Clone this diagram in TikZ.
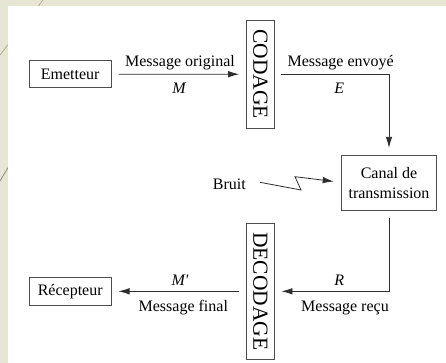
\documentclass[tikz,border=0pt]{standalone}
\usepackage{fontspec}
\setmainfont{Liberation Serif}
\usetikzlibrary{arrows.meta}
\definecolor{bgbeige}{HTML}{E7E5D3}
\definecolor{decoline}{HTML}{A9A88C}
\definecolor{inkgray}{HTML}{2E2E2E}
\tikzset{
  box/.style={draw=inkgray!85, line width=0.9pt, rectangle, inner sep=0pt, font=\fontsize{16}{20}\selectfont, text=black},
  vbox/.style={box, rotate=-90, minimum height=27.3pt, font=\fontsize{21.5}{24}\selectfont},
  lab/.style={anchor=base, inner sep=0pt, font=\fontsize{16}{20}\selectfont, text=black},
  conn/.style={draw=inkgray, line width=0.8pt, -{Latex[length=11pt,width=6.5pt]}, shorten >=7pt, shorten <=7pt},
}
\begin{document}
\begin{tikzpicture}[x=1pt,y=-1pt]
\useasboundingbox (0,0) rectangle (446,363);
\fill[bgbeige] (0,0) rectangle (446,363);
\draw[decoline, line width=0.7pt] (43,0) -- (0,55);
\draw[decoline!80!black, line width=0.7pt] (12,161) -- (0,181);
\fill[white] (8,6) rectangle (446,363);

\node[box, minimum width=81.7pt, minimum height=27.3pt] (emet) at (70.2,74.3) {Emetteur};
\node[vbox, minimum width=108.3pt] (cod) at (260.3,74.2) {CODAGE};
\node[box, minimum width=95.7pt, minimum height=54.7pt, align=center] (canal) at (389,182.7) {Canal de\\transmission};
\node[vbox, minimum width=136pt] (decod) at (260.3,291.3) {DECODAGE};
\node[box, minimum width=81.7pt, minimum height=27.3pt] (recep) at (70.2,291.3) {Récepteur};

\draw[conn] (emet) -- (cod);
\draw[conn] (cod) -| (canal);
\draw[conn] (canal) |- (decod);
\draw[conn] (decod) -- (recep);

\node[lab] (lmo) at (180,66.7) {Message original};
\node[lab] (lM) at (179,94) {\itshape M};
\node[lab] (lme) at (340.7,66.7) {Message envoyé};
\node[lab] (lE) at (339.3,94) {\itshape E};
\node[lab] (lR) at (339.3,285) {\itshape R};
\node[lab] (lmr) at (345,311.7) {Message reçu};
\node[lab] (lMp) at (180,285) {\itshape M\textquotesingle};
\node[lab] (lmf) at (183.3,311.7) {Message final};
\node[lab] (bruit) at (229.3,189.3) {Bruit};

\coordinate (z0) at (260,182.3);
\coordinate (z1) at (301,190);
\coordinate (z2) at (295,176.7);
\draw[draw=inkgray, line width=0.8pt, -{Latex[length=11pt,width=6.5pt]}, shorten >=7pt] (z0) -- (z1) -- (z2) -- (canal.west |- z0);
\end{tikzpicture}
\end{document}
